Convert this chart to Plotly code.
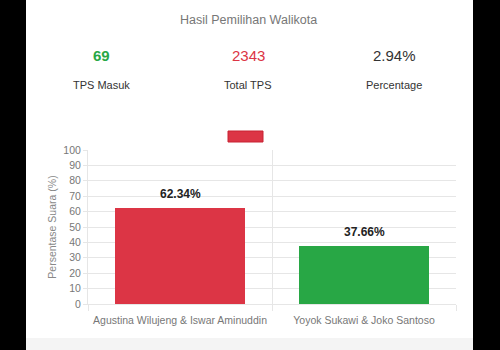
import plotly.graph_objects as go

candidates = ["Agustina Wilujeng & Iswar Aminuddin", "Yoyok Sukawi & Joko Santoso"]
vote_pct = [62.34, 37.66]
bar_colors = ["#dc3545", "#28a745"]
stat_values = ["69", "2343", "2.94%"]
stat_labels = ["TPS Masuk", "Total TPS", "Percentage"]
stat_colors = ["#28a745", "#dc3545", "#333333"]
stat_bold = [True, False, False]
y_ticks = list(range(0, 101, 10))

FONT = "Liberation Sans, Arial, sans-serif"
L, R, T, B = 88, 44, 150, 46
W, H = 500, 350
pw, ph = W - L - R, H - T - B

def px_x(p):
    return (p - L) / pw

def px_y(p):
    return (H - B - p) / ph

idx = list(range(len(candidates)))
fig = go.Figure()
fig.add_trace(go.Bar(x=idx, y=vote_pct, marker=dict(color=bar_colors, line=dict(width=0)),
                     width=0.71, showlegend=False, hoverinfo="skip"))

annotations = []
for i, v in zip(idx, vote_pct):
    annotations.append(dict(x=i, y=v, xref="x", yref="y", text=f"<b>{v:.2f}%</b>",
                            showarrow=False, yshift=14, yanchor="middle", xanchor="center",
                            font=dict(family=FONT, size=12, color="#222222")))

annotations.append(dict(x=px_x(248), y=px_y(20), xref="paper", yref="paper",
                        xanchor="center", yanchor="middle",
                        text="Hasil Pemilihan Walikota", showarrow=False,
                        font=dict(family=FONT, size=12.5, color="#777777")))
stat_x = [101, 248, 394]
for sx, val, lab, col, bold in zip(stat_x, stat_values, stat_labels, stat_colors, stat_bold):
    annotations.append(dict(x=px_x(sx), y=px_y(56), xref="paper", yref="paper",
                            xanchor="center", yanchor="middle",
                            text=f"<b>{val}</b>" if bold else val, showarrow=False,
                            font=dict(family=FONT, size=15, color=col)))
    annotations.append(dict(x=px_x(sx), y=px_y(85), xref="paper", yref="paper",
                            xanchor="center", yanchor="middle",
                            text=lab, showarrow=False,
                            font=dict(family=FONT, size=11, color="#333333")))

shapes = [
    dict(type="rect", xref="paper", yref="paper", x0=px_x(26), x1=px_x(473),
         y0=px_y(350), y1=px_y(0), fillcolor="white", line=dict(width=0), layer="below"),
    dict(type="rect", xref="paper", yref="paper", x0=px_x(26), x1=px_x(473),
         y0=px_y(350), y1=px_y(338), fillcolor="#f4f4f4", line=dict(width=0), layer="below"),
    dict(type="rect", xref="paper", yref="paper", x0=px_x(228), x1=px_x(263),
         y0=px_y(142), y1=px_y(131), fillcolor="#dc3545", line=dict(width=1, color="#c82333")),
]

grid = "#e6e6e6"
fig.update_layout(
    width=W, height=H, margin=dict(l=L, r=R, t=T, b=B, pad=0),
    paper_bgcolor="black", plot_bgcolor="white",
    annotations=annotations, shapes=shapes, bargap=0,
    xaxis=dict(type="linear", range=[-0.5, 1.5], tickmode="array", tickvals=idx,
               ticktext=candidates, showgrid=False, zeroline=False,
               ticks="outside", ticklen=6, tickcolor="rgba(0,0,0,0)",
               tickfont=dict(family=FONT, size=10.5, color="#777777"),
               showline=True, linecolor=grid, linewidth=1,
               minor=dict(tickmode="linear", tick0=0.5, dtick=1, showgrid=True,
                          gridcolor=grid, ticks="outside", ticklen=6, tickcolor=grid)),
    yaxis=dict(range=[0, 100], tickmode="array", tickvals=y_ticks, showgrid=True,
               gridcolor=grid, zeroline=False, showline=True, linecolor=grid, linewidth=1,
               ticks="outside", ticklen=4, tickcolor=grid,
               tickfont=dict(family=FONT, size=10.5, color="#777777"),
               title=dict(text="Persentase Suara (%)", standoff=4,
                          font=dict(family=FONT, size=10.5, color="#888888"))),
)

fig.write_html("out.html")
